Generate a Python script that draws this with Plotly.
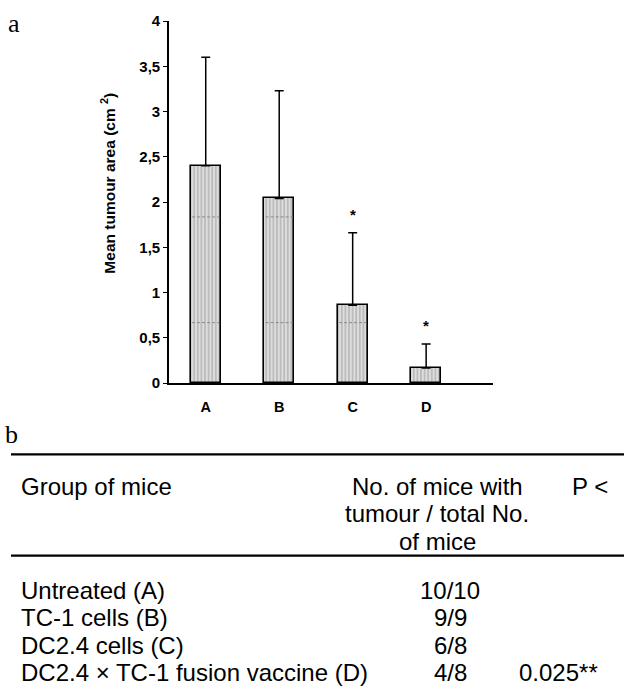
import plotly.graph_objects as go

# ---- data ----
categories = ["A", "B", "C", "D"]
mean_area = [2.40, 2.04, 0.86, 0.165]
sd_upper = [1.20, 1.19, 0.80, 0.265]
significant = [False, False, True, True]
y_ticks = [0, 0.5, 1, 1.5, 2, 2.5, 3, 3.5, 4]
y_tick_labels = ["0", "0,5", "1", "1,5", "2", "2,5", "3", "3,5", "4"]
inner_dash_levels = [0.667, 1.835]   # faint dashed lines visible inside bars

table_header_group = "Group of mice"
table_header_count = ["No. of mice with", "tumour / total No.", "of mice"]
table_header_p = "P <"
table_groups = ["Untreated (A)", "TC-1 cells (B)", "DC2.4 cells (C)",
                "DC2.4 \u00d7 TC-1 fusion vaccine (D)"]
table_counts = ["10/10", "9/9", "6/8", "4/8"]
table_p = ["", "", "", "0.025**"]

# ---- geometry (pixel layout of the page) ----
W, H = 624, 691
PL, PR, PT, PB = 169, 493, 18, 383
BAR_W = 0.41


def px_x(px):
    return (px - PL) / (PR - PL)


def px_y(py):
    return (PB - py) / (PB - PT)


xpos = list(range(len(categories)))
fig = go.Figure()

fig.add_trace(go.Bar(
    x=xpos, y=mean_area, width=BAR_W,
    marker=dict(color="#bcbcbc",
                line=dict(color="black", width=1.6),
                pattern=dict(shape="|", fgcolor="white", bgcolor="#bcbcbc",
                             size=3.6, solidity=0.25, fillmode="replace")),
    error_y=dict(type="data", symmetric=False, array=sd_upper,
                 arrayminus=[0] * len(sd_upper), color="black",
                 thickness=1.5, width=4.5),
    showlegend=False, hoverinfo="skip",
))

# faint dashed lines inside bars
for lvl in inner_dash_levels:
    for i, v in zip(xpos, mean_area):
        if v > lvl:
            fig.add_trace(go.Scatter(
                x=[i - BAR_W / 2 + 0.02, i + BAR_W / 2 - 0.02], y=[lvl, lvl],
                mode="lines", line=dict(color="#8a8a8a", width=1, dash="3px,2px"),
                showlegend=False, hoverinfo="skip"))

annotations = []
sans = "Arial, Liberation Sans"
# significance stars
for i, (v, e, s) in enumerate(zip(mean_area, sd_upper, significant)):
    if s:
        annotations.append(dict(
            x=i, y=v + e, xref="x", yref="y", text="<b>*</b>", showarrow=False,
            yanchor="bottom", yshift=8,
            font=dict(family=sans, size=15, color="black")))

# y-axis title
annotations.append(dict(
    x=px_x(108), y=px_y(182), xref="paper", yref="paper",
    text="<b>Mean tumour area (cm <sup>2</sup>)</b>", textangle=-90,
    showarrow=False, xanchor="center", yanchor="middle",
    font=dict(family=sans, size=15.5, color="black")))

# panel labels
serif = "Liberation Serif, Times New Roman, serif"
annotations.append(dict(x=px_x(14), y=px_y(21), xref="paper", yref="paper",
                        text="a", showarrow=False, xanchor="center", yanchor="middle",
                        font=dict(family=serif, size=26, color="black")))
annotations.append(dict(x=px_x(11), y=px_y(435), xref="paper", yref="paper",
                        text="b", showarrow=False, xanchor="center", yanchor="middle",
                        font=dict(family=serif, size=26, color="black")))

# table text
tfont = dict(family=sans, size=24, color="black")
annotations.append(dict(x=px_x(19), y=px_y(487), xref="paper", yref="paper",
                        text=table_header_group, showarrow=False,
                        xanchor="left", yanchor="middle", font=tfont))
for k, line in enumerate(table_header_count):
    annotations.append(dict(x=px_x(437), y=px_y(487 + 28 * k), xref="paper", yref="paper",
                            text=line, showarrow=False,
                            xanchor="center", yanchor="middle", font=tfont))
annotations.append(dict(x=px_x(570), y=px_y(487), xref="paper", yref="paper",
                        text=table_header_p, showarrow=False,
                        xanchor="left", yanchor="middle", font=tfont))
for r, (g, c, p) in enumerate(zip(table_groups, table_counts, table_p)):
    yy = px_y(592 + 27.8 * r)
    annotations.append(dict(x=px_x(19), y=yy, xref="paper", yref="paper", text=g,
                            showarrow=False, xanchor="left", yanchor="middle", font=tfont))
    annotations.append(dict(x=px_x(450), y=yy, xref="paper", yref="paper", text=c,
                            showarrow=False, xanchor="center", yanchor="middle", font=tfont))
    if p:
        annotations.append(dict(x=px_x(517), y=yy, xref="paper", yref="paper", text=p,
                                showarrow=False, xanchor="left", yanchor="middle", font=tfont))

shapes = [
    dict(type="line", xref="paper", yref="paper", x0=px_x(11), x1=px_x(630),
         y0=px_y(455), y1=px_y(455), line=dict(color="black", width=2.2)),
    dict(type="line", xref="paper", yref="paper", x0=px_x(11), x1=px_x(630),
         y0=px_y(557), y1=px_y(557), line=dict(color="black", width=2.2)),
]

fig.update_layout(
    width=W, height=H,
    margin=dict(l=PL, r=W - PR, t=PT, b=H - PB, pad=0),
    paper_bgcolor="white", plot_bgcolor="white",
    annotations=annotations, shapes=shapes,
    bargap=0,
    xaxis=dict(range=[-0.5, 3.91], tickvals=xpos, ticktext=[f"<b>{c}</b>" for c in categories],
               showline=True, linecolor="black", linewidth=1.6, ticks="",
               showgrid=False, zeroline=False, ticklabelstandoff=10,
               tickfont=dict(family=sans, size=14.5, color="black"), fixedrange=True),
    yaxis=dict(range=[0, 4], tickvals=y_ticks, ticktext=[f"<b>{t}</b>" for t in y_tick_labels],
               showline=True, linecolor="black", linewidth=1.6, ticks="outside",
               ticklen=4, tickwidth=1.3, tickcolor="black",
               showgrid=False, zeroline=False,
               tickfont=dict(family=sans, size=15, color="black"), fixedrange=True),
)

fig.write_html(
    "out.html",
    config={"displayModeBar": False},
    post_script="document.body.style.margin='0';document.body.style.padding='0';"
                "document.documentElement.style.overflow='hidden';",
)
